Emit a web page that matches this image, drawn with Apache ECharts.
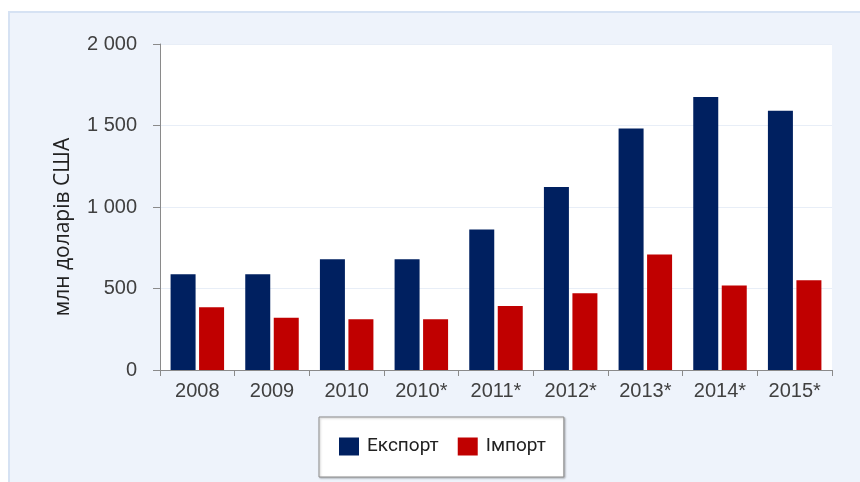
<!DOCTYPE html>
<html>
<head>
<meta charset="utf-8">
<script src="https://cdn.jsdelivr.net/npm/echarts@6/dist/echarts.min.js"></script>
<style>
  html, body { margin: 0; padding: 0; background: #ffffff; }
  #wrap { position: relative; width: 860px; height: 482px; overflow: hidden; }
  #panel { position: absolute; left: 8px; top: 11px; width: 870px; height: 490px;
           background: #eef3fb; border: 2px solid #d6e2f3; box-sizing: border-box; }
  #chart { position: absolute; left: 0; top: 0; width: 860px; height: 482px; }
</style>
</head>
<body>
<div id="wrap">
  <div id="panel"></div>
  <div id="chart"></div>
</div>
<script>
// Foreign trade volumes, million US dollars
const years = ['2008', '2009', '2010', '2010*', '2011*', '2012*', '2013*', '2014*', '2015*'];
const exportValues = [588, 588, 680, 680, 862, 1122, 1481, 1675, 1591];
const importValues = [385, 321, 311, 311, 393, 471, 708, 518, 551];
const seriesNames = ['Експорт', 'Імпорт'];
const axisTitle = 'млн доларів США';

const axisGray = '#8a8a8a';
const labelColor = '#404040';

const chart = echarts.init(document.getElementById('chart'), null, { renderer: 'canvas' });

chart.setOption({
  backgroundColor: 'transparent',
  animation: false,
  grid: {
    left: 160, top: 44, width: 672, height: 326,
    show: true, backgroundColor: '#ffffff', borderWidth: 0
  },
  legend: {
    data: seriesNames,
    left: 319, top: 417,
    icon: 'rect',
    itemWidth: 20, itemHeight: 18, itemGap: 19,
    padding: [20, 18, 21, 20],
    backgroundColor: '#ffffff',
    borderColor: '#8c8c8c', borderWidth: 1,
    shadowColor: 'rgba(0,0,0,0.25)', shadowBlur: 2, shadowOffsetX: 1, shadowOffsetY: 1,
    textStyle: { fontFamily: 'Roboto', fontSize: 19, color: '#222', padding: [0, 0, 0, 3] }
  },
  graphic: [{
    type: 'text',
    x: 63, y: 227,
    rotation: Math.PI / 2,
    style: {
      text: axisTitle,
      fontFamily: 'Open Sans', fontSize: 21, fill: '#222',
      textAlign: 'center', textVerticalAlign: 'middle'
    }
  }],
  xAxis: {
    type: 'category',
    data: years,
    axisLine: { show: true, lineStyle: { color: axisGray, width: 1 } },
    axisTick: { show: true, length: 6, interval: 0, lineStyle: { color: axisGray } },
    axisLabel: { interval: 0, margin: 11, color: labelColor, fontFamily: 'Liberation Sans', fontSize: 20 }
  },
  yAxis: {
    type: 'value',
    min: 0, max: 2000, interval: 500,
    axisLine: { show: true, lineStyle: { color: axisGray, width: 1 } },
    axisTick: { show: true, length: 7, lineStyle: { color: axisGray } },
    splitLine: { show: true, lineStyle: { color: '#e8eef7', width: 1 } },
    axisLabel: {
      margin: 23, color: labelColor, fontFamily: 'Liberation Sans', fontSize: 20,
      formatter: v => String(v).replace(/\B(?=(\d{3})+(?!\d))/g, ' ')
    }
  },
  series: [
    {
      name: seriesNames[0], type: 'bar', data: exportValues,
      barWidth: 25, barGap: '14%',
      itemStyle: { color: '#002060' }
    },
    {
      name: seriesNames[1], type: 'bar', data: importValues,
      barWidth: 25, barGap: '14%',
      itemStyle: { color: '#c00000' }
    }
  ]
});
</script>
</body>
</html>
